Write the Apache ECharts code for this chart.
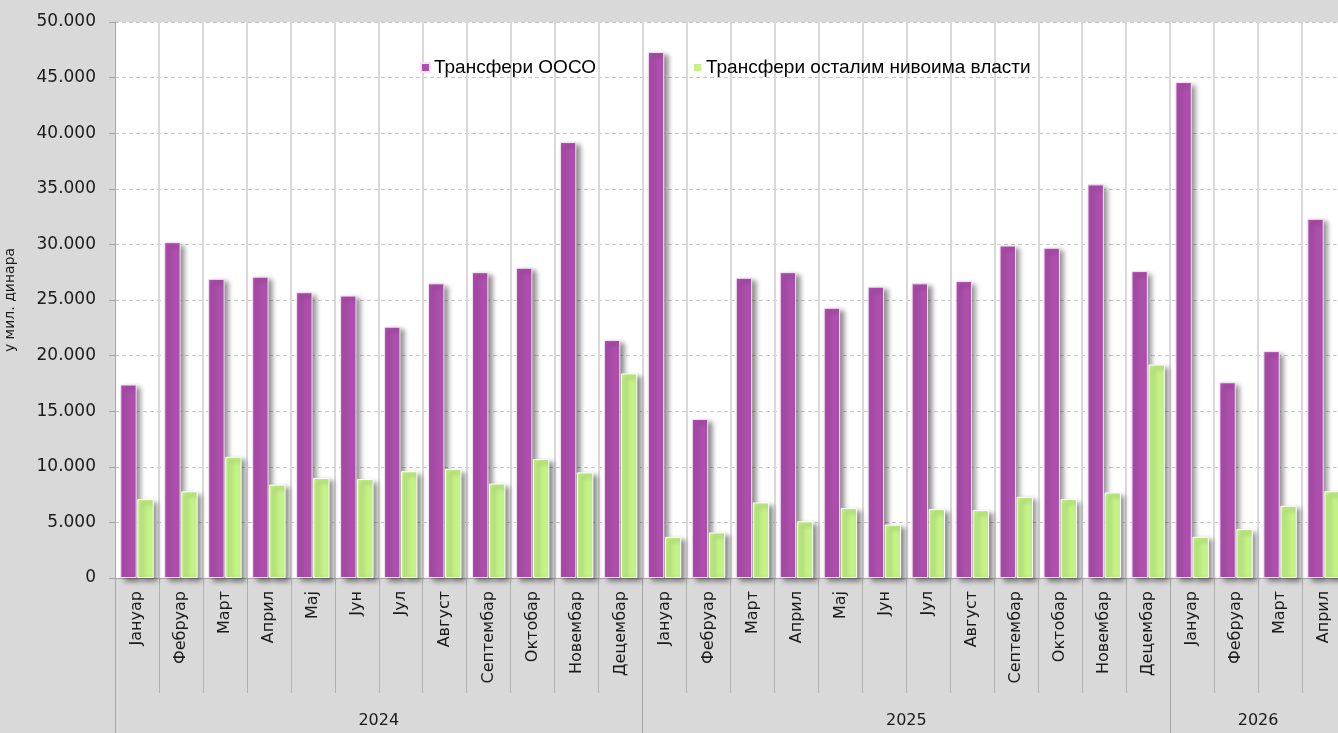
<!DOCTYPE html>
<html>
<head>
<meta charset="utf-8">
<script src="https://cdn.jsdelivr.net/npm/echarts@6/dist/echarts.min.js"></script>
<style>
html,body{margin:0;padding:0;background:#d9d9d9;}
#c{width:1338px;height:733px;}
</style>
</head>
<body>
<div id="c"></div>
<script>
const monthNames = ['Јануар','Фебруар','Март','Април','Мај','Јун','Јул','Август','Септембар','Октобар','Новембар','Децембар'];
const years = ['2024','2025','2026'];
const monthsPerYear = [12,12,4];
const seriesNames = ['Трансфери ООСО','Трансфери осталим нивоима власти'];
const oosoValues = [17400,30200,26900,27100,25700,25400,22600,26500,27500,27900,39200,21400,
                    47300,14300,27000,27500,24300,26200,26500,26700,29900,29700,35400,27600,
                    44600,17600,20400,32300];
const otherValues = [7100,7800,10900,8400,9000,8900,9600,9800,8500,10700,9500,18400,
                     3700,4100,6800,5100,6300,4800,6200,6100,7300,7100,7700,19200,
                     3700,4400,6500,7800];
const yTicks = [0,5000,10000,15000,20000,25000,30000,35000,40000,45000,50000];

const categories = [];
monthsPerYear.forEach(n => { for (let i = 0; i < n; i++) categories.push(monthNames[i]); });
const boundaries = [0];
monthsPerYear.forEach(n => boundaries.push(boundaries[boundaries.length-1] + n));
const centers = monthsPerYear.map((n, i) => boundaries[i] + n / 2);

const chart = echarts.init(document.getElementById('c'), null, {renderer:'canvas'});
const axisFont = 'DejaVu Sans';
const shadow = {shadowBlur:5, shadowOffsetX:4, shadowOffsetY:3, shadowColor:'rgba(0,0,0,0.45)'};
chart.setOption({
  backgroundColor:'#d9d9d9',
  animation:false,
  grid:{left:115, right:-8, top:22, bottom:155, show:true, backgroundColor:'#ffffff', borderWidth:0,
        containLabel:false, outerBoundsMode:'none'},
  legend:[
    {data:[seriesNames[0]], left:415, top:53, icon:'rect', itemWidth:9, itemHeight:9, itemGap:4,
     textStyle:{fontFamily:'Liberation Sans', fontSize:19, color:'#000', padding:[0,0,0,-1]}},
    {data:[seriesNames[1]], left:687, top:53, icon:'rect', itemWidth:9, itemHeight:9, itemGap:4,
     textStyle:{fontFamily:'Liberation Sans', fontSize:19, color:'#000', padding:[0,0,0,-1]}}
  ],
  xAxis:[
    {type:'category', data:categories, boundaryGap:true, position:'bottom',
     axisLine:{show:true, lineStyle:{color:'#a6a6a6', width:1}},
     axisTick:{show:true, interval:0, length:115, lineStyle:{color:'#b0b0b0'}},
     axisLabel:{interval:0, rotate:90, margin:13, fontFamily:axisFont, fontSize:16, color:'#1a1a1a'},
     splitLine:{show:true, interval:0, lineStyle:{color:'#d9d9d9', width:2}}},
    {type:'value', min:0, max:boundaries[boundaries.length-1], position:'bottom',
     axisLine:{show:false},
     splitLine:{show:false},
     axisTick:{show:true, customValues:boundaries, length:155, lineStyle:{color:'#a6a6a6'}},
     axisLabel:{show:true, customValues:centers, margin:135, fontFamily:axisFont, fontSize:16, color:'#1a1a1a',
       formatter:function(v){ const i = centers.indexOf(v); return i >= 0 ? years[i] : ''; }}}
  ],
  yAxis:{type:'value', min:0, max:50000, interval:5000,
    name:'у мил. динара', nameLocation:'middle', nameGap:98,
    nameTextStyle:{fontFamily:axisFont, fontSize:14, color:'#1a1a1a'},
    axisLine:{show:true, lineStyle:{color:'#a6a6a6'}},
    axisTick:{show:true, length:6, lineStyle:{color:'#a6a6a6'}},
    axisLabel:{margin:19, fontFamily:axisFont, fontSize:17, color:'#1a1a1a',
      formatter:function(v){ return v.toString().replace(/\B(?=(\d{3})+(?!\d))/g,'.'); }},
    splitLine:{show:true, lineStyle:{color:'#c8c8c8', type:[4,3], width:1}}},
  series:[
    {name:seriesNames[0], type:'bar', data:oosoValues, barGap:'4%', barCategoryGap:'24%',
     itemStyle:Object.assign({color:'#ae4fae', borderColor:'#f4e4f4', borderWidth:1}, shadow)},
    {name:seriesNames[1], type:'bar', data:otherValues,
     itemStyle:Object.assign({color:'#c3f286', borderColor:'#ffffff', borderWidth:1}, shadow)}
  ]
});
</script>
</body>
</html>
